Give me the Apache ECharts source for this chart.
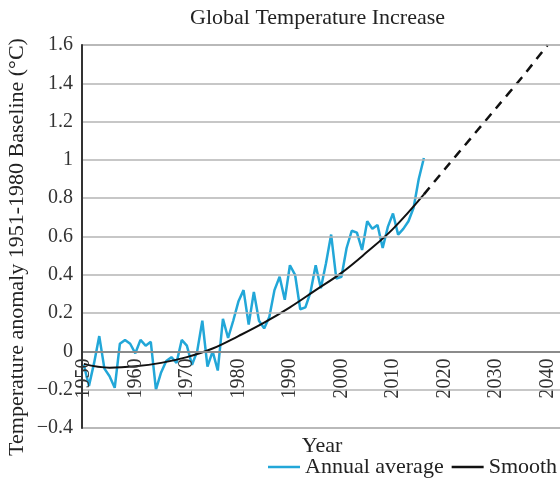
<!DOCTYPE html>
<html>
<head>
<meta charset="utf-8">
<script src="https://cdn.jsdelivr.net/npm/echarts@6/dist/echarts.min.js"></script>
<style>html,body{margin:0;padding:0;background:#fff;}#c{width:560px;height:481px;}</style>
</head>
<body>
<div id="c"></div>
<script>
const annualYears = [1950,1951,1952,1953,1954,1955,1956,1957,1958,1959,1960,1961,1962,1963,1964,1965,1966,1967,1968,1969,1970,1971,1972,1973,1974,1975,1976,1977,1978,1979,1980,1981,1982,1983,1984,1985,1986,1987,1988,1989,1990,1991,1992,1993,1994,1995,1996,1997,1998,1999,2000,2001,2002,2003,2004,2005,2006,2007,2008,2009,2010,2011,2012,2013,2014,2015,2016];
const annualValues = [-0.07,-0.18,-0.06,0.08,-0.09,-0.13,-0.19,0.04,0.06,0.04,-0.01,0.06,0.03,0.05,-0.20,-0.11,-0.05,-0.03,-0.06,0.06,0.03,-0.07,0.00,0.16,-0.08,0.00,-0.10,0.17,0.07,0.16,0.26,0.32,0.14,0.31,0.16,0.12,0.18,0.32,0.39,0.27,0.45,0.40,0.22,0.23,0.31,0.45,0.33,0.46,0.61,0.38,0.39,0.54,0.63,0.62,0.53,0.68,0.64,0.66,0.54,0.65,0.72,0.61,0.64,0.68,0.75,0.90,1.01];
const smoothYears = [1950,1955,1960,1965,1970,1975,1980,1985,1990,1995,2000,2005,2010,2016];
const smoothValues = [-0.065,-0.085,-0.078,-0.06,-0.03,0.015,0.08,0.15,0.23,0.32,0.41,0.52,0.64,0.82];
const projYears = [2016,2020,2025,2030,2035,2040];
const projValues = [0.82,0.95,1.11,1.27,1.43,1.60];
const xTickLabels = [1950,1960,1970,1980,1990,2000,2010,2020,2030,2040];
const yAxisTitle = 'Temperature anomaly 1951-1980 Baseline (°C)';
const yMin = -0.4, yMax = 1.6, yStep = 0.2;
const xMin = 1949.65, xMax = 2042.8;

const FONT = 'Liberation Serif';
const zip = (a, b) => a.map((v, i) => [v, b[i]]);

const chart = echarts.init(document.getElementById('c'), null, {renderer: 'canvas'});
chart.setOption({
  animation: false,
  backgroundColor: '#fff',
  title: {
    text: 'Global Temperature Increase',
    left: 190, top: 7, padding: 0,
    textStyle: {fontFamily: FONT, fontSize: 22, fontWeight: 'normal', color: '#222'}
  },
  legend: {
    data: ['Annual average', 'Smooth'],
    left: 268, top: 456, padding: 0,
    icon: 'rect',
    itemWidth: 32, itemHeight: 2.5, itemGap: 8,
    textStyle: {fontFamily: FONT, fontSize: 22, color: '#222'}
  },
  graphic: [{
    type: 'text',
    x: 17, y: 247,
    rotation: Math.PI / 2,
    style: {
      text: yAxisTitle,
      font: '22px "Liberation Serif"',
      fill: '#222',
      align: 'center', verticalAlign: 'middle'
    }
  }],
  grid: {
    left: 82, top: 45, bottom: 53, right: -2,
    containLabel: false, outerBoundsMode: 'none',
    show: true, backgroundColor: 'transparent',
    borderColor: '#b5b5b5', borderWidth: 1.5
  },
  xAxis: {
    type: 'value',
    min: xMin, max: xMax,
    offset: -76.6,
    name: 'Year', nameLocation: 'middle', nameGap: 84, nameMoveOverlap: false,
    nameTextStyle: {fontFamily: FONT, fontSize: 22, color: '#222'},
    axisLine: {show: true, onZero: false, lineStyle: {color: '#111', width: 2}},
    axisTick: {show: false},
    splitLine: {show: false},
    axisLabel: {
      customValues: xTickLabels,
      rotate: 90, margin: 7,
      fontFamily: FONT, fontSize: 20, color: '#333',
      formatter: v => String(v)
    },
    z: 5
  },
  yAxis: {
    type: 'value',
    min: yMin, max: yMax, interval: yStep,
    axisLine: {show: true, onZero: false, lineStyle: {color: '#333', width: 2}},
    axisTick: {show: false},
    splitLine: {show: true, lineStyle: {color: '#b5b5b5', width: 1.5}},
    axisLabel: {
      margin: 9, fontFamily: FONT, fontSize: 20, color: '#333',
      formatter: v => String(Math.round(v * 10) / 10).replace('-', '\u2212')
    },
    z: 6
  },
  series: [
    {
      name: 'Annual average', type: 'line', symbol: 'none',
      data: zip(annualYears, annualValues),
      lineStyle: {color: '#22a7d8', width: 2.5}, itemStyle: {color: '#22a7d8'},
      z: 3
    },
    {
      name: 'Smooth', type: 'line', symbol: 'none', smooth: 0.4,
      data: zip(smoothYears, smoothValues),
      lineStyle: {color: '#111', width: 2}, itemStyle: {color: '#111'},
      z: 4
    },
    {
      name: 'Projection', type: 'line', symbol: 'none', smooth: 0.3,
      data: zip(projYears, projValues),
      lineStyle: {color: '#111', width: 2.5, type: [9, 7]}, itemStyle: {color: '#111'},
      z: 4
    }
  ]
});
</script>
</body>
</html>
